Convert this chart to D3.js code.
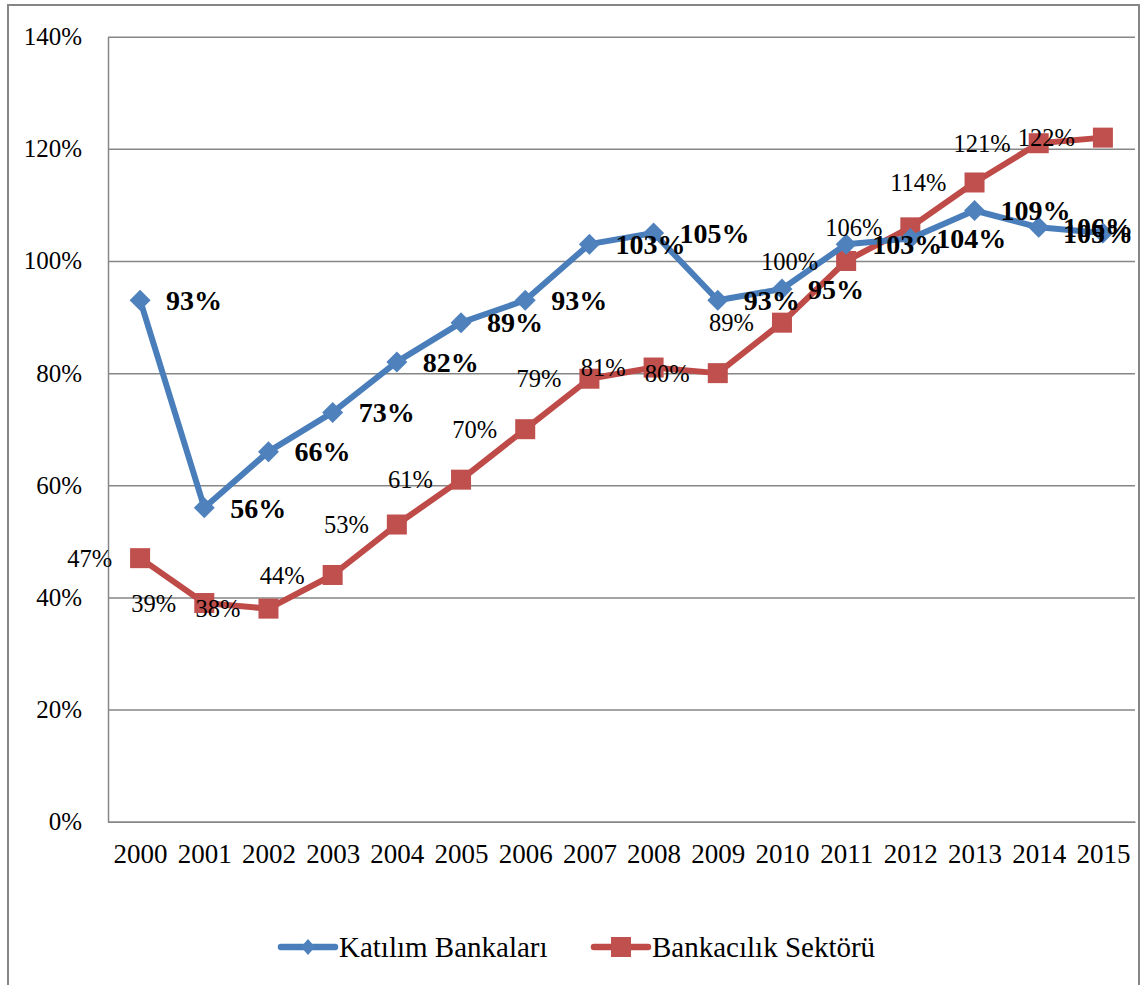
<!DOCTYPE html>
<html>
<head>
<meta charset="utf-8">
<script src="https://cdn.jsdelivr.net/npm/d3@7"></script>
<style>
  html, body { margin: 0; padding: 0; background: #fff; }
  svg { display: block; font-family: "Liberation Serif", "Times New Roman", serif; }
</style>
</head>
<body>
<svg id="chart" width="1145" height="985"></svg>
<script>
// Years on the category axis
const years = ["2000","2001","2002","2003","2004","2005","2006","2007",
               "2008","2009","2010","2011","2012","2013","2014","2015"];
// Participation banks (%)
const katilim = [93, 56, 66, 73, 82, 89, 93, 103, 105, 93, 95, 103, 104, 109, 106, 105];
// Banking sector (%)
const sektor  = [47, 39, 38, 44, 53, 61, 70, 79, 81, 80, 89, 100, 106, 114, 121, 122];
// Value axis ticks
const yTicks = [0, 20, 40, 60, 80, 100, 120, 140];
const seriesNames = ["Katılım Bankaları", "Bankacılık Sektörü"];

const blue = "#4A7EBB", blueFill = "#4F81BD";
const red = "#BE4B48", redFill = "#C0504D";
const grid = "#868686";

const svg = d3.select("#chart");
const plot = { left: 108, right: 1135, top: 36.7, bottom: 821.7 };

// outer chart frame
svg.append("rect")
  .attr("x", 8).attr("y", 5).attr("width", 1131).attr("height", 1000)
  .attr("fill", "none").attr("stroke", grid).attr("stroke-width", 2);

const x = d3.scalePoint().domain(years).range([plot.left, plot.right]).padding(0.5);
const y = d3.scaleLinear().domain([0, 140]).range([plot.bottom, plot.top]);

// value axis with gridlines
const yAxis = svg.append("g")
  .attr("transform", `translate(${plot.left},0)`)
  .call(d3.axisLeft(y).tickValues(yTicks).tickFormat(d => d + "%")
        .tickSize(-(plot.right - plot.left)).tickSizeOuter(0).tickPadding(26));
yAxis.selectAll(".tick line").attr("stroke", grid).attr("stroke-width", 1.5);
yAxis.select(".domain").attr("stroke", grid).attr("stroke-width", 1.5);
yAxis.selectAll("text").attr("font-size", 25).attr("fill", "#000")
  .attr("font-family", "Liberation Serif");

// category axis
const xAxis = svg.append("g")
  .attr("transform", `translate(0,${plot.bottom})`)
  .call(d3.axisBottom(x).tickSize(0).tickSizeOuter(0).tickPadding(22));
xAxis.select(".domain").attr("stroke", grid).attr("stroke-width", 1.5);
xAxis.selectAll("text").attr("font-size", 27).attr("fill", "#000")
  .attr("font-family", "Liberation Serif");

const line = d3.line().x((d, i) => x(years[i])).y(d => y(d));
const diamond = (rx, ry) => `M0,${-ry}L${rx},0L0,${ry}L${-rx},0Z`;

// Banking sector line + square markers
svg.append("path").datum(sektor).attr("d", line)
  .attr("fill", "none").attr("stroke", red).attr("stroke-width", 6)
  .attr("stroke-linejoin", "round");
svg.append("g").selectAll("rect").data(sektor).join("rect")
  .attr("x", (d, i) => x(years[i]) - 10).attr("y", d => y(d) - 10)
  .attr("width", 20).attr("height", 20).attr("fill", redFill);

// Participation banks line + diamond markers
svg.append("path").datum(katilim).attr("d", line)
  .attr("fill", "none").attr("stroke", blue).attr("stroke-width", 6)
  .attr("stroke-linejoin", "round");
svg.append("g").selectAll("path").data(katilim).join("path")
  .attr("transform", (d, i) => `translate(${x(years[i])},${y(d)})`)
  .attr("d", diamond(10.5, 10.5)).attr("fill", blueFill);

// Banking sector labels, left of each marker
svg.append("g").selectAll("text").data(sektor).join("text")
  .attr("x", (d, i) => x(years[i]) - 28).attr("y", d => y(d))
  .attr("dy", "0.35em").attr("text-anchor", "end")
  .attr("font-size", 24.5).attr("fill", "#000")
  .text(d => d + "%");

// Participation banks labels, bold, right of each marker (kept inside the frame)
svg.append("g").selectAll("text").data(katilim).join("text")
  .attr("x", (d, i) => x(years[i]) + 26).attr("y", d => y(d))
  .attr("dy", "0.35em").attr("text-anchor", "start")
  .attr("font-size", 28).attr("font-weight", "bold").attr("fill", "#000")
  .text(d => d + "%")
  .each(function () {
    const el = d3.select(this);
    const w = this.getComputedTextLength();
    const x0 = +el.attr("x");
    if (x0 + w > 1133) el.attr("x", 1133 - w);
  });

// legend
const legend = [
  { name: seriesNames[0], color: blue, fill: blueFill, x0: 281, marker: "diamond" },
  { name: seriesNames[1], color: red, fill: redFill, x0: 594, marker: "square" }
];
const ly = 947;
legend.forEach(l => {
  const g = svg.append("g");
  g.append("line").attr("x1", l.x0).attr("x2", l.x0 + 54).attr("y1", ly).attr("y2", ly)
    .attr("stroke", l.color).attr("stroke-width", 6.5).attr("stroke-linecap", "round");
  if (l.marker === "diamond") {
    g.append("path").attr("transform", `translate(${l.x0 + 27},${ly})`)
      .attr("d", diamond(7, 8)).attr("fill", l.fill);
  } else {
    g.append("rect").attr("x", l.x0 + 17).attr("y", ly - 10)
      .attr("width", 20).attr("height", 20).attr("fill", l.fill);
  }
  g.append("text").attr("x", l.x0 + 58).attr("y", ly + 10)
    .attr("font-size", 29).attr("fill", "#000").text(l.name);
});
</script>
</body>
</html>
